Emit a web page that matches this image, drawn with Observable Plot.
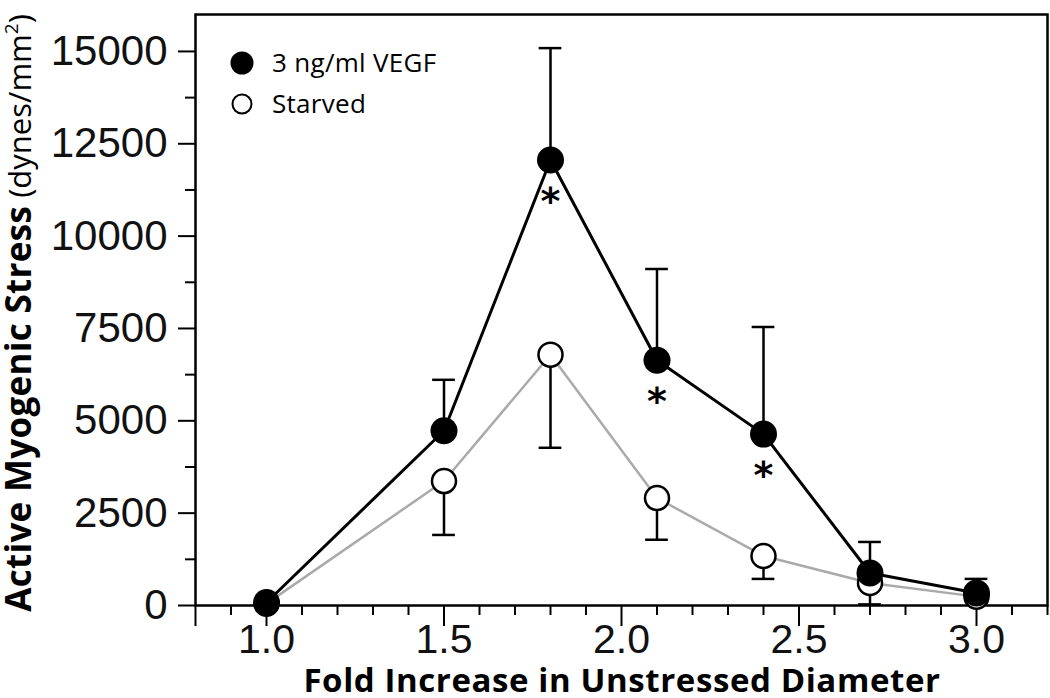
<!DOCTYPE html>
<html><head><meta charset="utf-8">
<script src="https://cdn.jsdelivr.net/npm/d3@7"></script>
<script src="https://cdn.jsdelivr.net/npm/@observablehq/plot@0.6"></script>
<style>body{margin:0;background:#fff} svg{display:block}</style>
</head><body><div id="chart"></div>
<script>
// ---- data ----
const diameters   = [1.0, 1.5, 1.8, 2.1, 2.4, 2.7, 3.0];
const vegfMean    = [80, 4730, 12060, 6640, 4640, 880, 340];
const vegfErr     = [0, 1380, 3030, 2470, 2900, 840, 380];      // upper bars
const starvedMean = [50, 3370, 6790, 2910, 1340, 610, 240];
const starvedErr  = [0, 1460, 2520, 1130, 620, 580, 0];          // lower bars
const significant = [false, false, true, true, true, false, false];
const yTicks      = [0, 2500, 5000, 7500, 10000, 12500, 15000];
const yMinor      = [1250, 3750, 6250, 8750, 11250, 13750];
const xTicks      = [0.8, 1.0, 1.5, 2.0, 2.5, 3.0];
const xMinor      = [0.9, 1.1, 1.2, 1.3, 1.4, 1.6, 1.7, 1.8, 1.9, 2.1, 2.2, 2.3, 2.4, 2.6, 2.7, 2.8, 2.9, 3.1, 3.2];
const seriesNames = ["3 ng/ml VEGF", "Starved"];

const vegf = diameters.map((d, i) => ({x: d, y: vegfMean[i], hi: vegfMean[i] + vegfErr[i], sig: significant[i]}));
const starved = diameters.map((d, i) => ({x: d, y: starvedMean[i], lo: starvedMean[i] - starvedErr[i]}));
const vegfBars = vegf.filter(d => d.hi > d.y);
const starvedBars = starved.filter(d => d.lo < d.y);
const cap = 0.032;

const tickFont = "Liberation Sans, Arial, sans-serif";
const chart = Plot.plot({
  width: 1050, height: 698,
  marginLeft: 195, marginRight: 3, marginTop: 14, marginBottom: 93,
  x: {domain: [0.8, 3.2]},
  y: {domain: [0, 16000]},
  style: {background: "white"},
  marks: [
    Plot.axisX(xMinor, {tickSize: 10, tickFormat: () => "", strokeWidth: 2, label: null}),
    Plot.axisX(xTicks, {tickSize: 21, tickPadding: -3, tickFormat: d => d < 0.9 ? "" : d.toFixed(1),
      fontSize: 41, fontFamily: tickFont, fill: "#111", strokeWidth: 2, label: null}),
    Plot.axisY(yMinor, {tickSize: 10, tickFormat: () => "", strokeWidth: 2, label: null}),
    Plot.axisY(yTicks, {tickSize: 17, tickPadding: 11, tickFormat: d3.format("d"),
      fontSize: 42, fontFamily: tickFont, fill: "#111", strokeWidth: 2, label: null}),
    Plot.frame({stroke: "black", strokeWidth: 2.5}),
    Plot.line(starved, {x: "x", y: "y", stroke: "#aaaaaa", strokeWidth: 2.5}),
    Plot.line(vegf, {x: "x", y: "y", stroke: "black", strokeWidth: 3}),
    Plot.ruleX(vegfBars, {x: "x", y1: "y", y2: "hi", stroke: "black", strokeWidth: 2.5}),
    Plot.ruleY(vegfBars, {y: "hi", x1: d => d.x - cap, x2: d => d.x + cap, stroke: "black", strokeWidth: 2.5}),
    Plot.ruleX(starvedBars, {x: "x", y1: "y", y2: "lo", stroke: "black", strokeWidth: 2.5}),
    Plot.ruleY(starvedBars, {y: "lo", x1: d => d.x - cap, x2: d => d.x + cap, stroke: "black", strokeWidth: 2.5}),
    Plot.dot(starved, {x: "x", y: "y", r: 12, fill: "white", stroke: "black", strokeWidth: 2.5}),
    Plot.dot(vegf, {x: "x", y: "y", r: 13.5, fill: "black"}),
    Plot.text(vegf.filter(d => d.sig), {x: "x", y: "y", text: () => "*", dy: 42, fontSize: 38,
      fontWeight: "bold", fontFamily: "DejaVu Sans", fill: "black"})
  ]
});

const svg = d3.select(chart);
// legend
const leg = svg.append("g").attr("font-family", "Open Sans, sans-serif").attr("font-size", 26)
  .attr("text-anchor", "start").attr("letter-spacing", 0.3).attr("fill", "black");
leg.append("circle").attr("cx", 242).attr("cy", 63).attr("r", 11.5).attr("fill", "black");
leg.append("text").attr("x", 272).attr("y", 72).text(seriesNames[0]);
leg.append("circle").attr("cx", 242).attr("cy", 104).attr("r", 9.5).attr("fill", "white").attr("stroke", "black").attr("stroke-width", 2);
leg.append("text").attr("x", 272).attr("y", 113).text(seriesNames[1]);

// axis titles
const yl = svg.append("text").attr("transform", "translate(31,313) rotate(-90)")
  .attr("text-anchor", "middle").attr("font-family", "Open Sans, sans-serif").attr("fill", "black");
yl.append("tspan").attr("font-weight", "bold").attr("font-size", 35).attr("letter-spacing", 0.3).text("Active Myogenic Stress");
yl.append("tspan").attr("font-size", 31).text(" (dynes/mm");
yl.append("tspan").attr("font-size", 19).attr("dy", -13).text("2");
yl.append("tspan").attr("font-size", 31).attr("dy", 13).text(")");

svg.append("text").attr("x", 622).attr("y", 692).attr("text-anchor", "middle")
  .attr("font-family", "Open Sans, sans-serif").attr("font-weight", "bold").attr("font-size", 33)
  .attr("letter-spacing", 0.6).attr("fill", "black").text("Fold Increase in Unstressed Diameter");

document.getElementById("chart").appendChild(chart);
</script>
</body></html>
